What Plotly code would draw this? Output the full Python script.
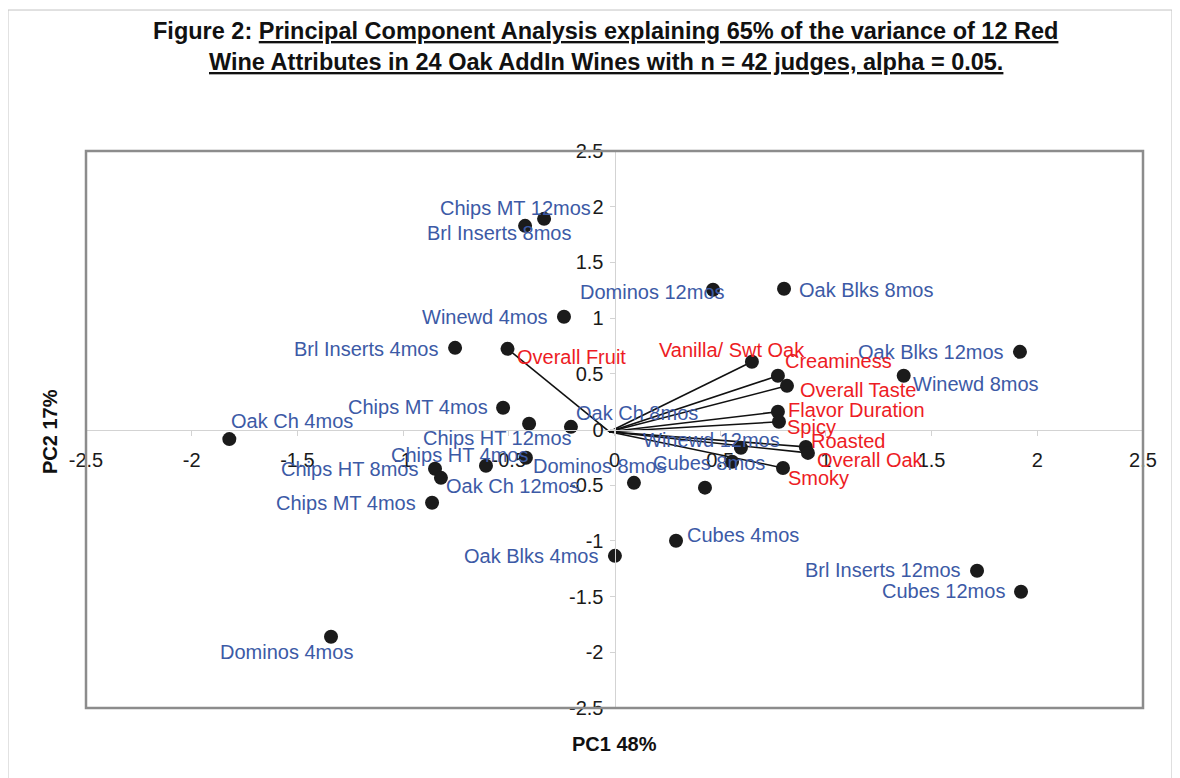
import plotly.graph_objects as go

# ---------------- data ----------------
WINE_NAMES = [
    "Chips MT 12mos", "Brl Inserts 8mos", "Dominos 12mos", "Oak Blks 8mos",
    "Winewd 4mos", "Brl Inserts 4mos", "Oak Blks 12mos", "Winewd 8mos",
    "Oak Ch 4mos", "Chips MT 4mos", "Oak Ch 8mos", "Chips HT 12mos",
    "Chips HT 4mos", "Chips HT 8mos", "Oak Ch 12mos", "Chips MT 4mos",
    "Winewd 12mos", "Cubes 8mos", "Dominos 8mos", "Cubes 4mos",
    "Oak Blks 4mos", "Brl Inserts 12mos", "Cubes 12mos", "Dominos 4mos",
    "", "",
]
WINE_PC1 = [
    -0.333, -0.423, 0.466, 0.802,
    -0.239, -0.754, 1.918, 1.368,
    -1.822, -0.527, -0.206, -0.404,
    -0.419, -0.849, -0.821, -0.863,
    0.598, 0.556, 0.092, 0.291,
    0.002, 1.715, 1.923, -1.341,
    -0.608, 0.428,
]
WINE_PC2 = [
    1.891, 1.828, 1.254, 1.263,
    1.012, 0.733, 0.697, 0.482,
    -0.086, 0.195, 0.024, 0.051,
    -0.254, -0.353, -0.434, -0.658,
    -0.164, -0.290, -0.479, -0.999,
    -1.134, -1.268, -1.457, -1.861,
    -0.326, -0.522,
]

ATTR_NAMES = [
    "Overall Fruit", "Vanilla/ Swt Oak", "Creaminess", "Overall Taste",
    "Flavor Duration", "Spicy", "Roasted", "Overall Oak", "Smoky",
]
ATTR_PC1 = [-0.506, 0.650, 0.773, 0.816, 0.773, 0.778, 0.905, 0.915, 0.797]
ATTR_PC2 = [0.724, 0.608, 0.482, 0.392, 0.159, 0.069, -0.156, -0.210, -0.345]
VEC_ORIGIN = (-0.025, -0.02)

TICK_VALS = [-2.5, -2, -1.5, -1, -0.5, 0, 0.5, 1, 1.5, 2, 2.5]
TICK_TEXT = ["-2.5", "-2", "-1.5", "-1", "-0.5", "0", "0.5", "1", "1.5", "2", "2.5"]

TITLE_PREFIX = "Figure 2: "
TITLE_LINE1 = "Principal Component Analysis explaining 65% of the variance of 12 Red"
TITLE_LINE2 = "Wine Attributes in 24 Oak AddIn Wines with n = 42 judges, alpha = 0.05."
X_TITLE = "PC1 48%"
Y_TITLE = "PC2 17%"

# ---------------- styles: label pixel offsets (dx right, dy down) ----------------
WINE_LABEL_OFFSETS = [
    (-29, -11), (-26, 7), (-61, 2), (82, 1),
    (-79, 0), (-89, 1), (-89, 0), (72, 8),
    (63, -18), (-85, -1), (66, -14), (-32, 14),
    (-66, -3), (-86, 0), (72, 8), (-86, 0),
    (-29, -8), (-23, 1), (-34, -17), (67, -6),
    (-84, 0), (-94, -1), (-78, -1), (-45, 15),
    (0, 0), (0, 0),
]
ATTR_LABEL_OFFSETS = [
    (64, 8), (-20, -12), (61, -15), (71, 4),
    (79, -2), (33, 5), (43, -6), (63, 7), (36, 10),
]

FONT = "Liberation Sans, Arial, sans-serif"
BLUE = "#3c5aa6"
RED = "#ed1c24"
DOT = "#1b1b1b"
AX_GREY = "#d3d3d3"

fig = go.Figure()

# vectors from origin to attribute points
vx, vy = [], []
for x, y in zip(ATTR_PC1, ATTR_PC2):
    vx += [VEC_ORIGIN[0], x, None]
    vy += [VEC_ORIGIN[1], y, None]
fig.add_trace(go.Scatter(x=vx, y=vy, mode="lines",
                         line=dict(color="#111111", width=1.6),
                         hoverinfo="skip", showlegend=False))

fig.add_trace(go.Scatter(x=WINE_PC1, y=WINE_PC2, mode="markers",
                         marker=dict(color=DOT, size=14),
                         text=WINE_NAMES, showlegend=False))
fig.add_trace(go.Scatter(x=ATTR_PC1, y=ATTR_PC2, mode="markers",
                         marker=dict(color=DOT, size=14),
                         text=ATTR_NAMES, showlegend=False))

annotations = []
for name, x, y, (dx, dy) in zip(WINE_NAMES, WINE_PC1, WINE_PC2, WINE_LABEL_OFFSETS):
    if not name:
        continue
    annotations.append(dict(x=x, y=y, xref="x", yref="y", text=name, showarrow=False,
                            xanchor="center", yanchor="middle", xshift=dx, yshift=-dy,
                            font=dict(family=FONT, size=20, color=BLUE)))
for name, x, y, (dx, dy) in zip(ATTR_NAMES, ATTR_PC1, ATTR_PC2, ATTR_LABEL_OFFSETS):
    annotations.append(dict(x=x, y=y, xref="x", yref="y", text=name, showarrow=False,
                            xanchor="center", yanchor="middle", xshift=dx, yshift=-dy,
                            font=dict(family=FONT, size=20, color=RED)))

# titles
annotations.append(dict(xref="paper", yref="paper", x=0.4915, y=1.2154,
                        text=f"<b>{TITLE_PREFIX}<u>{TITLE_LINE1}</u></b>", showarrow=False,
                        xanchor="center", yanchor="middle",
                        font=dict(family=FONT, size=23.5, color="#111111")))
annotations.append(dict(xref="paper", yref="paper", x=0.4915, y=1.1598,
                        text=f"<b><u>{TITLE_LINE2}</u></b>", showarrow=False,
                        xanchor="center", yanchor="middle",
                        font=dict(family=FONT, size=23.5, color="#111111")))
annotations.append(dict(xref="paper", yref="paper", x=0.5, y=-0.0646,
                        text=f"<b>{X_TITLE}</b>", showarrow=False,
                        xanchor="center", yanchor="middle",
                        font=dict(family=FONT, size=20, color="#111111")))
annotations.append(dict(xref="paper", yref="paper", x=-0.034, y=0.4955,
                        text=f"<b>{Y_TITLE}</b>", showarrow=False, textangle=-90,
                        xanchor="center", yanchor="middle",
                        font=dict(family=FONT, size=20, color="#111111")))

shapes = [
    # plot frame
    dict(type="rect", xref="paper", yref="paper", x0=0, y0=0, x1=1, y1=1,
         line=dict(color="#8c8c8c", width=2.5), layer="above"),
    # outer chart border
    dict(type="rect", xref="paper", yref="paper", x0=-0.0738, y0=-0.165, x1=1.0274, y1=1.2531,
         line=dict(color="#c4c4c4", width=1), layer="below"),
]

axis_common = dict(range=[-2.5, 2.5], anchor="free", position=0.5,
                   showline=True, linecolor=AX_GREY, linewidth=1,
                   ticks="outside", ticklen=5, tickcolor=AX_GREY, tickwidth=1,
                   tickvals=TICK_VALS, ticktext=TICK_TEXT,
                   tickfont=dict(family=FONT, size=20, color="#1a1a1a"),
                   showgrid=False, zeroline=False, fixedrange=True)

# the page body adds an 8px margin, so the figure is 8px smaller with shifted margins
fig.update_layout(
    width=1172, height=770,
    margin=dict(l=78, r=37, t=143, b=70),
    paper_bgcolor="white", plot_bgcolor="white",
    xaxis=dict(**axis_common, ticklabelstandoff=7),
    yaxis=dict(**axis_common, ticklabelstandoff=2),
    annotations=annotations, shapes=shapes,
    showlegend=False,
)

fig.write_html("out.html")
